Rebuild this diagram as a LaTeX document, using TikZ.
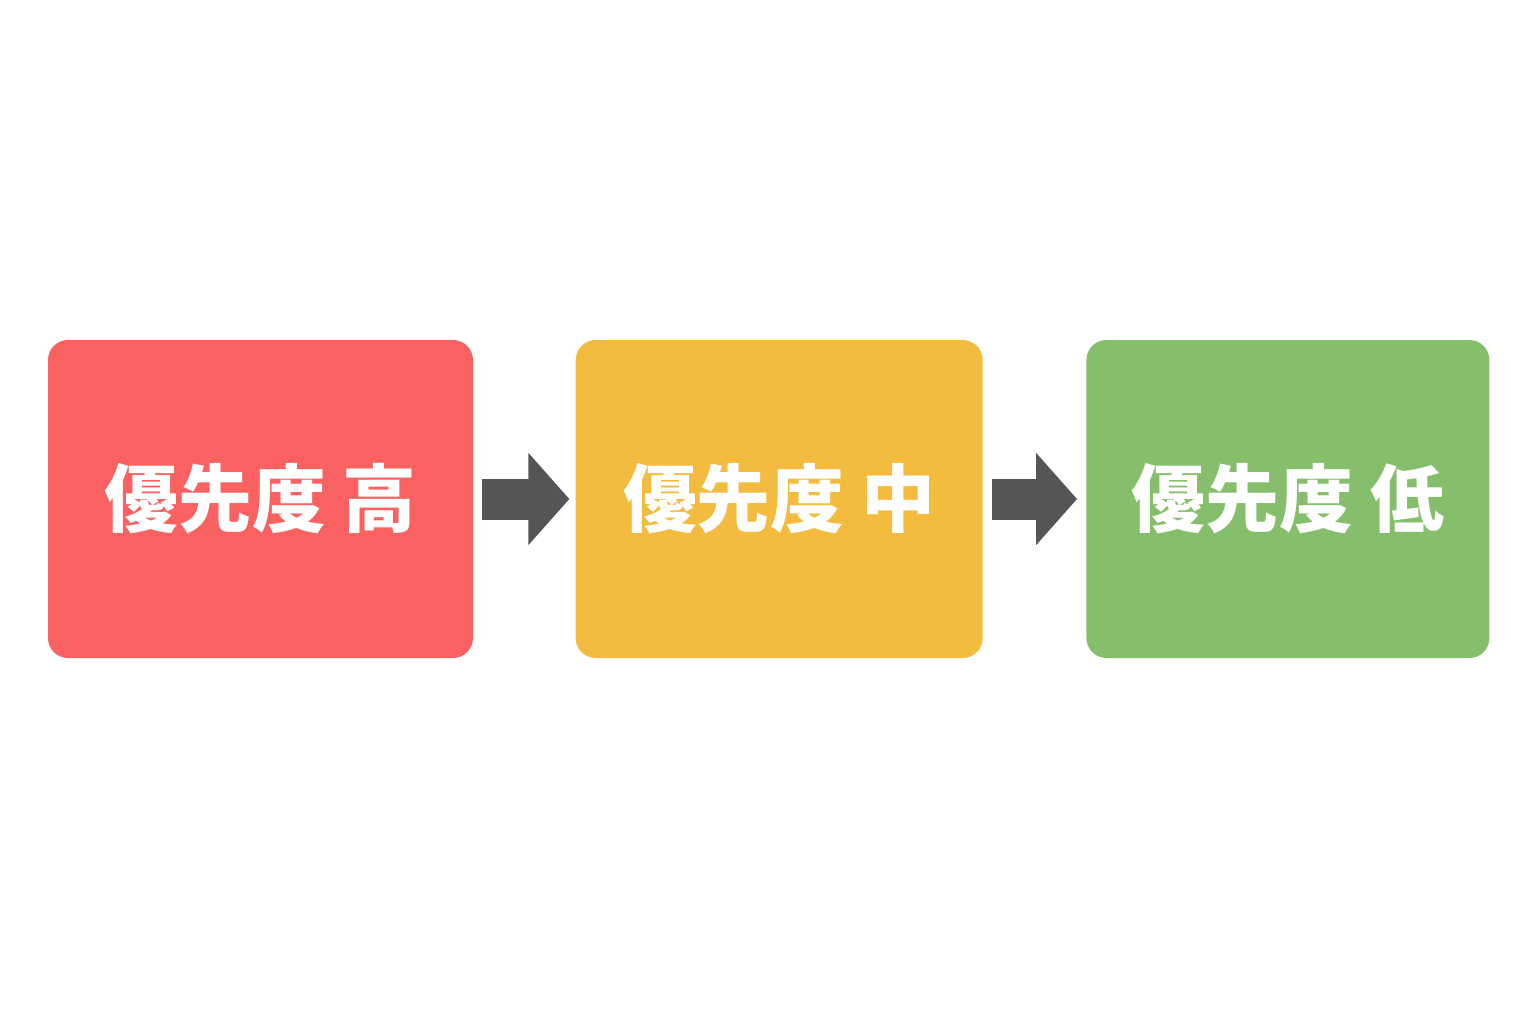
\documentclass[tikz,border=0pt]{standalone}
\usepackage{fontspec}
\usepackage{tikz}
\usetikzlibrary{positioning, arrows.meta}
\newfontfamily\cjk{Noto Sans CJK JP}
\definecolor{HighRed}{HTML}{FA6262}
\definecolor{MidYellow}{HTML}{F3BC3F}
\definecolor{LowGreen}{HTML}{86BF6B}
\definecolor{ArrowGray}{HTML}{555555}
\tikzset{PriorityBox/.style={%
    shape=rectangle,%
    rounded corners=0.4cm,%
    minimum height=6.36cm,%
    text=white,%
    font=\cjk\bfseries\fontsize{42}{45}\selectfont,%
    inner sep=0pt,%
}}
\tikzset{BlockArrow/.style={%
    -{Triangle[length=0.82cm, width=1.8cm]},%
    draw=ArrowGray,%
    line width=0.82cm,%
}}

\begin{document}
\begin{tikzpicture}
    \useasboundingbox[fill=white] (0,0) rectangle (30.72,-20.48);
    \node[PriorityBox, fill=HighRed, minimum width=8.5cm] (high) at (5.21,-9.98) {優先度 高};
    \node[PriorityBox, fill=MidYellow, minimum width=8.14cm, right=2.04cm of high] (mid) {優先度 中};
    \node[PriorityBox, fill=LowGreen, minimum width=8.06cm, right=2.06cm of mid] (low) {優先度 低};

    \draw[BlockArrow, shorten <=0.18cm, shorten >=0.12cm] (high) -- (mid);
    \draw[BlockArrow, shorten <=0.18cm, shorten >=0.18cm] (mid) -- (low);
\end{tikzpicture}
\end{document}
